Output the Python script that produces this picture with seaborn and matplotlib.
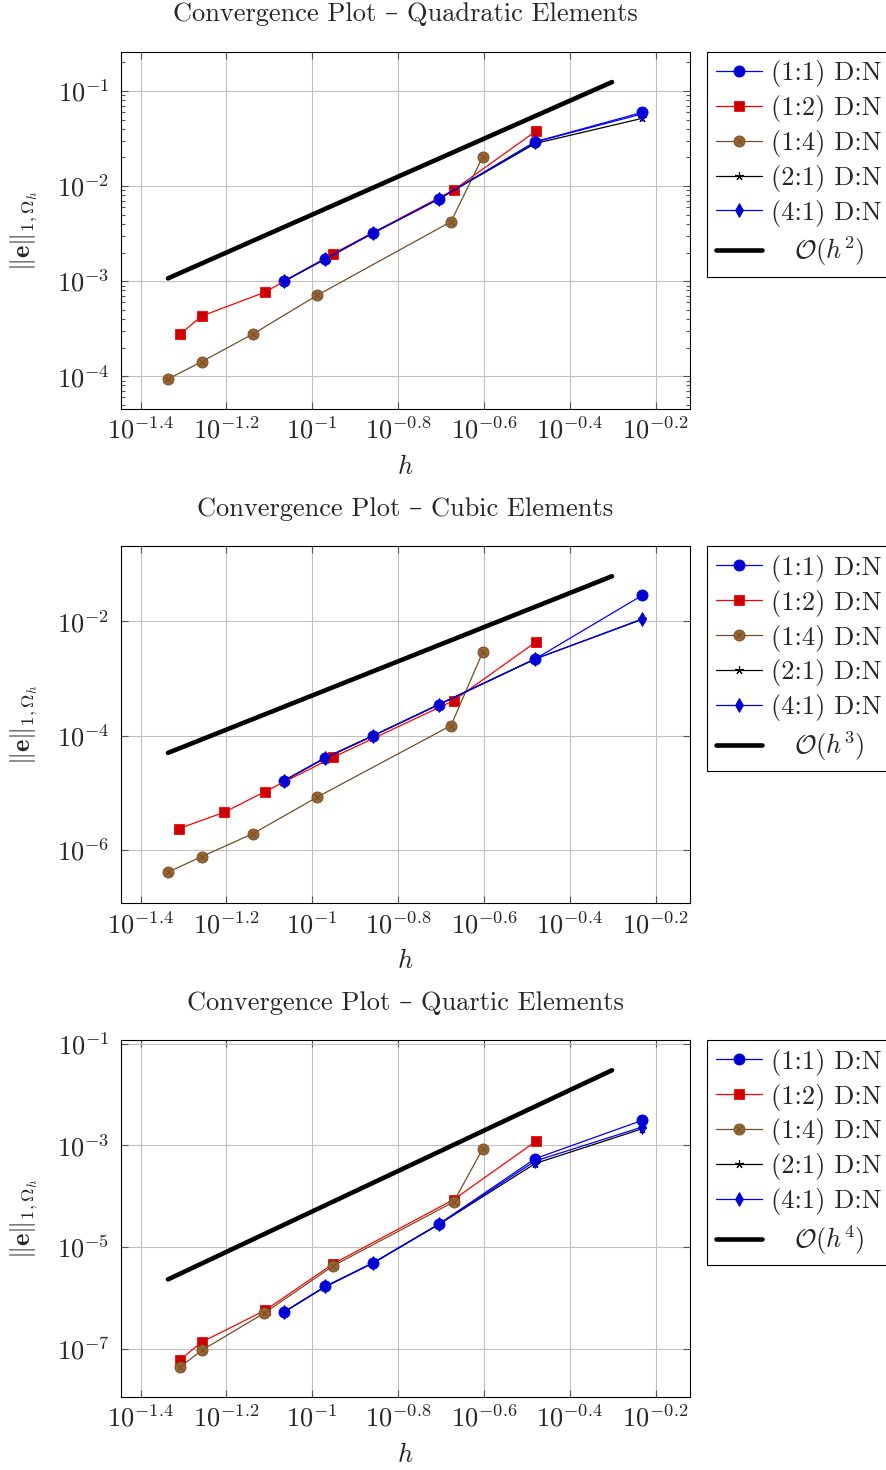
import numpy as np
import matplotlib
matplotlib.use('Agg')
import matplotlib.pyplot as plt
import seaborn as sns
from matplotlib.lines import Line2D
from matplotlib.legend_handler import HandlerTuple
from matplotlib.ticker import FixedLocator, NullLocator

sns.set_style('ticks')
plt.rcParams['font.family'] = ['cmr10', 'DejaVu Serif']
plt.rcParams['mathtext.fontset'] = 'cm'
plt.rcParams['axes.formatter.use_mathtext'] = True

# mesh sizes h
h_11 = [0.0859, 0.1072, 0.1387, 0.1968, 0.3304, 0.5875]
h_12_a = [0.0492, 0.0552, 0.0776, 0.1119, 0.2133, 0.3319]   # quadratic, quartic
h_12_b = [0.0489, 0.0624, 0.0776, 0.1119, 0.2133, 0.3319]   # cubic
h_14_a = [0.0460, 0.0552, 0.0728, 0.1028, 0.2104, 0.2495]   # quadratic, cubic
h_14_b = [0.0492, 0.0552, 0.0773, 0.1119, 0.2133, 0.2495]   # quartic
h_ref = [0.0461, 0.499]

# errors ||e||_{1,Omega_h}
quad_11 = [1.00e-3, 1.71e-3, 3.22e-3, 7.29e-3, 2.92e-2, 5.96e-2]
quad_12 = [2.77e-4, 4.29e-4, 7.66e-4, 1.95e-3, 9.08e-3, 3.79e-2]
quad_14 = [9.29e-5, 1.42e-4, 2.79e-4, 7.13e-4, 4.22e-3, 2.04e-2]
quad_21 = [1.00e-3, 1.71e-3, 3.22e-3, 7.29e-3, 2.80e-2, 5.16e-2]
quad_41 = [1.00e-3, 1.71e-3, 3.22e-3, 7.29e-3, 2.90e-2, 5.75e-2]
quad_ref = [1.07e-3, 1.24e-1]

cubic_11 = [1.63e-5, 4.07e-5, 1.00e-4, 3.48e-4, 2.19e-3, 2.85e-2]
cubic_12 = [2.37e-6, 4.58e-6, 1.05e-5, 4.19e-5, 4.09e-4, 4.35e-3]
cubic_14 = [4.07e-7, 7.64e-7, 1.94e-6, 8.47e-6, 1.50e-4, 2.90e-3]
cubic_21 = [1.63e-5, 4.07e-5, 1.00e-4, 3.48e-4, 2.19e-3, 1.08e-2]
cubic_41 = [1.63e-5, 4.12e-5, 1.00e-4, 3.48e-4, 2.19e-3, 1.10e-2]
cubic_ref = [4.99e-5, 6.12e-2]

quart_11 = [5.24e-7, 1.67e-6, 4.89e-6, 2.79e-5, 5.45e-4, 3.10e-3]
quart_12 = [6.03e-8, 1.34e-7, 5.65e-7, 4.68e-6, 8.51e-5, 1.20e-3]
quart_14 = [4.33e-8, 9.23e-8, 5.00e-7, 4.27e-6, 7.66e-5, 8.57e-4]
quart_21 = [5.24e-7, 1.65e-6, 4.85e-6, 2.75e-5, 4.37e-4, 2.12e-3]
quart_41 = [5.24e-7, 1.67e-6, 4.89e-6, 2.79e-5, 4.90e-4, 2.29e-3]
quart_ref = [2.30e-6, 2.99e-2]

titles = ['Convergence Plot \u2013 Quadratic Elements',
          'Convergence Plot \u2013 Cubic Elements',
          'Convergence Plot \u2013 Quartic Elements']
series_labels = ['(1:1) D:N', '(1:2) D:N', '(1:4) D:N', '(2:1) D:N', '(4:1) D:N']
ref_labels = [r'$\quad\mathcal{O}(h^2)$', r'$\quad\mathcal{O}(h^3)$', r'$\quad\mathcal{O}(h^4)$']

xtick_vals = [10**-1.4, 10**-1.2, 10**-1.0, 10**-0.8, 10**-0.6, 10**-0.4, 10**-0.2]
xtick_labels = [r'$10^{-1.4}$', r'$10^{-1.2}$', r'$10^{-1}$', r'$10^{-0.8}$',
                r'$10^{-0.6}$', r'$10^{-0.4}$', r'$10^{-0.2}$']
ytick_exps = [[-4, -3, -2, -1], [-6, -4, -2], [-7, -5, -3, -1]]
ylims = [(10**-4.344, 10**-0.586), (10**-6.927, 10**-0.689), (10**-7.95, 10**-0.933)]

BLUE, BLUE_F = (0, 0, 1), (0, 0, 0.8)
RED, RED_F = (1, 0, 0), (0.8, 0, 0)
BROWN, BROWN_F = (0.45, 0.3, 0.15), (0.6, 0.4, 0.2)
LW = 0.9
FS = 19

fig = plt.figure(figsize=(8.87, 14.70), dpi=100)
axes_pos = [[0.136, 0.7218, 0.642, 0.2431],
            [0.136, 0.3857, 0.642, 0.2427],
            [0.136, 0.0497, 0.642, 0.2427]]

panels = [
    (quad_11, quad_12, quad_14, quad_21, quad_41, quad_ref, h_12_a, h_14_a),
    (cubic_11, cubic_12, cubic_14, cubic_21, cubic_41, cubic_ref, h_12_b, h_14_a),
    (quart_11, quart_12, quart_14, quart_21, quart_41, quart_ref, h_12_a, h_14_b),
]

circle = dict(marker='o', ms=8, mfc=BLUE_F, mec=BLUE, mew=0.6)
square = dict(marker='s', ms=7.8, mfc=RED_F, mec=RED, mew=0.6)
otimes = dict(marker='o', ms=8, mfc=BROWN_F, mec=BROWN, mew=0.6)
cross = dict(marker='x', ms=4.8, mec=BROWN, mew=0.7)
star = dict(marker=(5, 2, 0), ms=6, mec='black', mew=0.8)
diamond = dict(marker='d', ms=7, mfc=BLUE_F, mec=BLUE, mew=0.6)

for i, (y11, y12, y14, y21, y41, yref, h12, h14) in enumerate(panels):
    ax = fig.add_axes(axes_pos[i])
    ax.set_xscale('log')
    ax.set_yscale('log')

    sns.lineplot(x=h_11, y=y11, ax=ax, color=BLUE, lw=LW, **circle)
    sns.lineplot(x=h12, y=y12, ax=ax, color=RED, lw=LW, **square)
    sns.lineplot(x=h14, y=y14, ax=ax, color=BROWN, lw=LW, **otimes)
    ax.plot(h14, y14, ls='none', **cross)
    sns.lineplot(x=h_11, y=y21, ax=ax, color='black', lw=LW, **star)
    sns.lineplot(x=h_11, y=y41, ax=ax, color=BLUE, lw=LW, **diamond)
    sns.lineplot(x=h_ref, y=yref, ax=ax, color='black', lw=3.3)

    ax.set_xlim(10**-1.4466, 10**-0.12)
    ax.set_ylim(*ylims[i])
    ax.xaxis.set_major_locator(FixedLocator(xtick_vals))
    ax.set_xticklabels(xtick_labels)
    ax.xaxis.set_minor_locator(NullLocator())
    yt = [10.0**e for e in ytick_exps[i]]
    ax.yaxis.set_major_locator(FixedLocator(yt))
    ax.set_yticklabels([r'$10^{%d}$' % e for e in ytick_exps[i]])
    if i == 0:
        minors = [m * 10.0**e for e in range(-5, 0) for m in range(2, 10)]
        ax.yaxis.set_minor_locator(FixedLocator(minors))
    else:
        ax.yaxis.set_minor_locator(NullLocator())

    ax.grid(True, which='major', color='#c0c0c0', lw=0.8)
    ax.tick_params(which='both', direction='in', top=True, right=True,
                   color='#555555', width=0.8, labelsize=FS)
    ax.tick_params(which='major', length=5)
    ax.tick_params(which='minor', length=3)
    ax.tick_params(axis='y', which='major', pad=8)
    ax.tick_params(axis='x', which='major', pad=6)
    for sp in ax.spines.values():
        sp.set_color('black')
        sp.set_linewidth(0.8)

    ax.set_title(titles[i], fontsize=FS, pad=22)
    ax.set_xlabel(r'$h$', fontsize=FS)
    ax.set_ylabel(r'$\|\mathbf{e}\|_{1,\Omega_h}$', fontsize=FS)
    ax.xaxis.set_label_coords(0.5, -0.130)
    ax.yaxis.set_label_coords(-0.142, 0.5)

    handles = [
        Line2D([], [], color=BLUE, lw=LW, **circle),
        Line2D([], [], color=RED, lw=LW, **square),
        (Line2D([], [], color=BROWN, lw=LW, **otimes), Line2D([], [], ls='none', **cross)),
        Line2D([], [], color='black', lw=LW, **star),
        Line2D([], [], color=BLUE, lw=LW, **diamond),
        Line2D([], [], color='black', lw=3.3),
    ]
    leg = ax.legend(handles, series_labels + [ref_labels[i]],
                    handler_map={tuple: HandlerTuple(ndivide=1)},
                    loc='upper left', bbox_to_anchor=(1.030, 1.0), borderaxespad=0,
                    fontsize=FS, frameon=True, fancybox=False, framealpha=1,
                    edgecolor='black', handlelength=1.75, handletextpad=0.35,
                    borderpad=0.32, labelspacing=0.30, numpoints=1)
    leg.get_frame().set_linewidth(0.8)

fig.savefig('out.png', dpi=100)
